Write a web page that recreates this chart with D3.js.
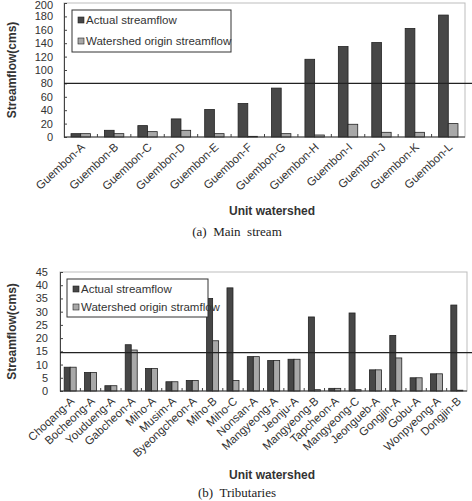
<!DOCTYPE html>
<html>
<head>
<meta charset="utf-8">
<script src="https://cdn.jsdelivr.net/npm/d3@7"></script>
<style>
  body { margin: 0; background: #fff; }
  text { font-family: "Liberation Sans", Arial, sans-serif; }
  .caption { font-family: "Liberation Serif", "Times New Roman", serif; }
</style>
</head>
<body>
<div id="chart"></div>
<script>
// (a) main stream
const mainNames = ["Guembon-A", "Guembon-B", "Guembon-C", "Guembon-D", "Guembon-E", "Guembon-F",
    "Guembon-G", "Guembon-H", "Guembon-I", "Guembon-J", "Guembon-K", "Guembon-L"];
const mainActual = [5, 10, 17, 27, 41, 50, 73, 116, 135, 141, 162, 182];
const mainOrigin = [5, 5, 8, 10, 5, 1, 5, 3, 19, 7, 7, 20];
const mainTicks = [0, 20, 40, 60, 80, 100, 120, 140, 160, 180, 200];
const mainLine = 80;

// (b) tributaries
const tribNames = ["Choqang-A", "Bocheong-A", "Youdueng-A", "Gabcheon-A", "Miho-A", "Musim-A",
    "Byeongcheon-A", "Miho-B", "Miho-C", "Nonsan-A", "Mangyeong-A", "Jeonju-A", "Mangyeong-B",
    "Tapcheon-A", "Mangyeong-C", "Jeongueb-A", "Gongjin-A", "Gobu-A", "Wonpyeong-A", "Dongjin-B"];
const tribActual = [9, 7, 2, 17.5, 8.5, 3.5, 4, 35, 39, 13, 11.5, 12, 28, 1, 29.5, 8, 21, 5, 6.5, 32.5];
const tribOrigin = [9, 7, 2, 15.5, 8.5, 3.5, 4, 19, 4, 13, 11.5, 12, 0.5, 1, 0.5, 8, 12.5, 5, 6.5, 0.3];
const tribTicks = [0, 5, 10, 15, 20, 25, 30, 35, 40, 45];
const tribLine = 14.5;

const seriesKeys = ["actual", "origin"];
const darkFill = "#474747";
const lightFill = "#a8a8a8";

const svg = d3.select("#chart").append("svg")
    .attr("width", 472)
    .attr("height", 501);

function drawPanel(opt) {
    const g = svg.append("g");
    const x = d3.scaleBand()
        .domain(opt.names)
        .range([opt.left, opt.right])
        .paddingInner(opt.pad)
        .paddingOuter(opt.pad / 2);
    const xs = d3.scaleBand().domain(seriesKeys).range([0, x.bandwidth()]);
    const y = d3.scaleLinear().domain([0, opt.max]).range([opt.bottom, opt.top]);
    const color = d3.scaleOrdinal().domain(seriesKeys).range([darkFill, lightFill]);

    // frame
    g.append("rect")
        .attr("x", opt.left).attr("y", opt.top)
        .attr("width", opt.right - opt.left).attr("height", opt.bottom - opt.top)
        .attr("fill", "none").attr("stroke", "#bdbdbd");

    // bars
    const rows = opt.names.map((n, i) => ({ name: n, actual: opt.actual[i], origin: opt.origin[i] }));
    g.selectAll("g.grp")
        .data(rows)
        .enter().append("g")
        .attr("class", "grp")
        .attr("transform", d => `translate(${x(d.name)},0)`)
        .selectAll("rect")
        .data(d => seriesKeys.map(k => ({ key: k, value: d[k] })))
        .enter().append("rect")
        .attr("x", d => xs(d.key))
        .attr("y", d => y(d.value))
        .attr("width", xs.bandwidth())
        .attr("height", d => opt.bottom - y(d.value))
        .attr("fill", d => color(d.key))
        .attr("stroke", "#222")
        .attr("stroke-width", 0.8);

    // y axis (ticks inward)
    const yAxis = g.append("g")
        .attr("transform", `translate(${opt.left},0)`)
        .call(d3.axisRight(y).tickValues(opt.ticks).tickSize(3).tickFormat(""));
    yAxis.select(".domain").attr("stroke", "#444");
    yAxis.selectAll(".tick line").attr("stroke", "#444");
    g.selectAll("text.ylab")
        .data(opt.ticks)
        .enter().append("text")
        .attr("class", "ylab")
        .attr("x", opt.labelX)
        .attr("y", d => Math.max(y(d) + 4, 9))
        .attr("text-anchor", "end")
        .attr("font-size", 11)
        .attr("fill", "#333")
        .text(d => d);

    // x axis with boundary ticks pointing up
    const bounds = opt.names.map(n => x(n) - x.step() * opt.pad / 2).slice(1);
    g.selectAll("line.xtick")
        .data(bounds)
        .enter().append("line")
        .attr("class", "xtick")
        .attr("x1", d => d).attr("x2", d => d)
        .attr("y1", opt.bottom).attr("y2", opt.bottom - 3)
        .attr("stroke", "#444");
    g.append("line")
        .attr("x1", opt.left).attr("x2", opt.right)
        .attr("y1", opt.bottom).attr("y2", opt.bottom)
        .attr("stroke", "#333");

    // category labels
    g.selectAll("text.xlab")
        .data(opt.names)
        .enter().append("text")
        .attr("class", "xlab")
        .attr("text-anchor", "end")
        .attr("font-size", 11.5)
        .attr("fill", "#333")
        .attr("transform", d => `translate(${x(d) + x.bandwidth() / 2 + 5},${opt.bottom + 11}) rotate(-43)`)
        .text(d => d);

    // reference line
    g.append("line")
        .attr("x1", opt.left).attr("x2", 472)
        .attr("y1", y(opt.line)).attr("y2", y(opt.line))
        .attr("stroke", "#222").attr("stroke-width", 1.2);

    // legend
    const lg = g.append("g").attr("transform", `translate(${opt.legend[0]},${opt.legend[1]})`);
    lg.append("rect")
        .attr("width", opt.legend[2]).attr("height", opt.legend[3])
        .attr("fill", "#fff").attr("stroke", "#333");
    opt.legendLabels.forEach((t, i) => {
        const yy = opt.legendRows[i];
        lg.append("rect")
            .attr("x", 6).attr("y", yy - 4)
            .attr("width", 6).attr("height", 6)
            .attr("fill", color(seriesKeys[i])).attr("stroke", "#222").attr("stroke-width", 0.6);
        lg.append("text")
            .attr("x", 14).attr("y", yy + 3)
            .attr("font-size", 11.5).attr("fill", "#333")
            .text(t);
    });

    // axis titles
    svg.append("text")
        .attr("transform", `translate(16,${(opt.top + opt.bottom) / 2}) rotate(-90)`)
        .attr("text-anchor", "middle")
        .attr("font-size", 12).attr("font-weight", "bold").attr("fill", "#333")
        .text("Streamflow(cms)");
    svg.append("text")
        .attr("x", 272).attr("y", opt.xTitleY)
        .attr("text-anchor", "middle")
        .attr("font-size", 12).attr("font-weight", "bold").attr("fill", "#333")
        .text("Unit watershed");
    svg.append("text")
        .attr("class", "caption")
        .attr("x", 237).attr("y", opt.captionY)
        .attr("text-anchor", "middle")
        .attr("font-size", 13).attr("fill", "#222")
        .attr("xml:space", "preserve")
        .text(opt.caption);
}

drawPanel({
    names: mainNames, actual: mainActual, origin: mainOrigin, ticks: mainTicks, line: mainLine,
    max: 200, left: 64, right: 465, top: 3, bottom: 137, pad: 0.42, labelX: 53,
    legend: [72, 10, 159, 42], legendRows: [11, 32],
    legendLabels: ["Actual streamflow", "Watershed origin streamflow"],
    xTitleY: 215, captionY: 236, caption: "(a)  Main  stream"
});

drawPanel({
    names: tribNames, actual: tribActual, origin: tribOrigin, ticks: tribTicks, line: tribLine,
    max: 45, left: 60, right: 467, top: 272, bottom: 391, pad: 0.41, labelX: 48,
    legend: [67, 279, 141, 38], legendRows: [11, 29],
    legendLabels: ["Actual streamflow", "Watershed origin stramflow"],
    xTitleY: 479, captionY: 497, caption: "(b)  Tributaries"
});
</script>
</body>
</html>
